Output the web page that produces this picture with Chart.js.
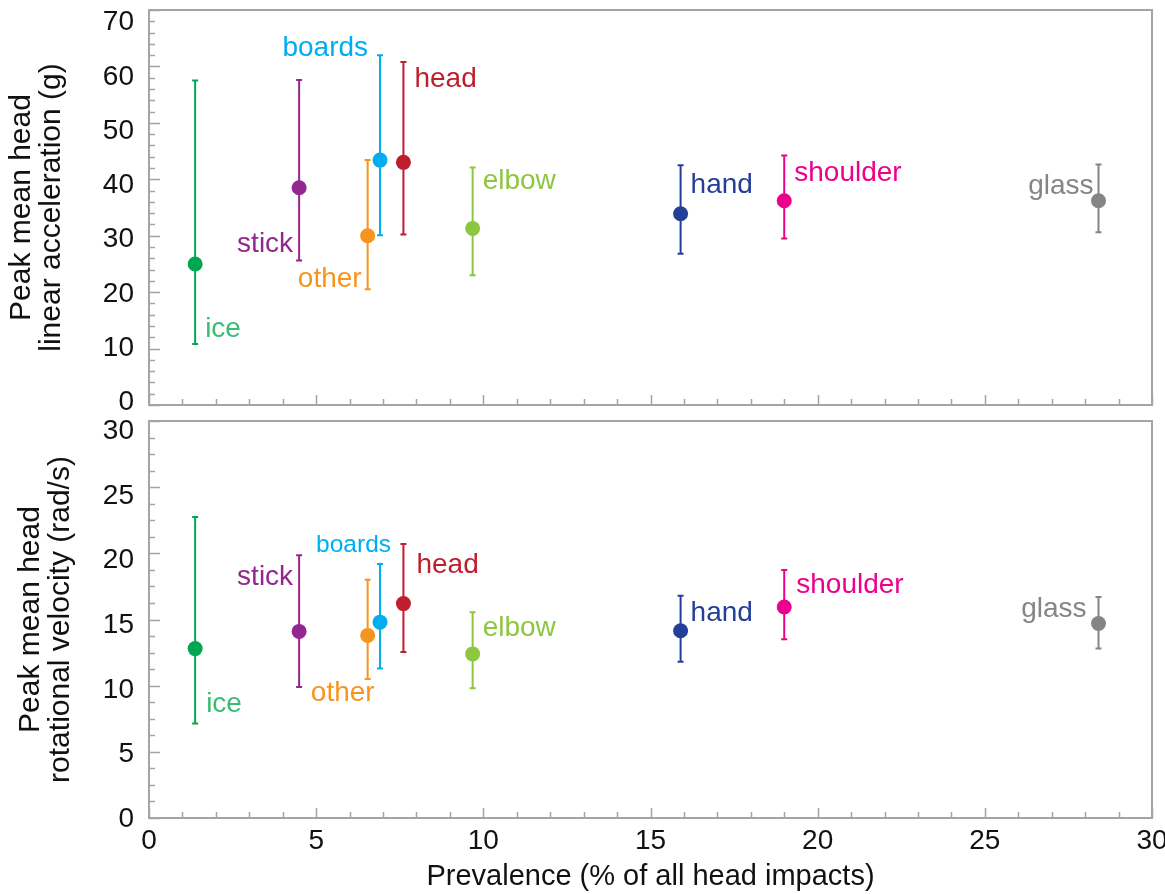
<!DOCTYPE html>
<html>
<head>
<meta charset="utf-8">
<script src="https://cdn.jsdelivr.net/npm/chart.js@4.4.0/dist/chart.umd.min.js"></script>
<style>
  html, body { margin: 0; padding: 0; background: #fff; }
  #wrap { position: relative; width: 1165px; height: 894px; }
  #topChart { position: absolute; left: 0; top: 0; }
  #bottomChart { position: absolute; left: 0; top: 400px; }
</style>
</head>
<body>
<div id="wrap">
  <canvas id="topChart" width="1165" height="430"></canvas>
  <canvas id="bottomChart" width="1165" height="494"></canvas>
</div>
<script>
// impact sources
const categories = ['ice', 'stick', 'other', 'boards', 'head', 'elbow', 'hand', 'shoulder', 'glass'];
const prevalence = [1.38, 4.49, 6.54, 6.91, 7.61, 9.68, 15.9, 19.0, 28.4];

// peak linear acceleration (g): mean and bar ends
const accelMean = [25.0, 38.5, 30.0, 43.4, 43.0, 31.3, 33.9, 36.2, 36.2];
const accelLow  = [10.8, 25.6, 20.5, 30.1, 30.2, 23.0, 26.8, 29.5, 30.6];
const accelHigh = [57.5, 57.6, 43.4, 62.0, 60.8, 42.1, 42.5, 44.2, 42.6];

// peak rotational velocity (rad/s): mean and bar ends
const velMean = [12.8, 14.1, 13.8, 14.8, 16.2, 12.4, 14.15, 15.95, 14.7];
const velLow  = [7.15, 9.9, 10.5, 11.3, 12.55, 9.8, 11.8, 13.5, 12.8];
const velHigh = [22.75, 19.85, 18.0, 19.2, 20.7, 15.55, 16.8, 18.75, 16.7];

const xTicks = [0, 5, 10, 15, 20, 25, 30];
const accelTicks = [0, 10, 20, 30, 40, 50, 60, 70];
const velTicks = [0, 5, 10, 15, 20, 25, 30];

const colors = ['#00a651', '#93278f', '#f7941d', '#00aeef', '#be1e2d', '#8dc63f', '#233f99', '#ec008c', '#858587'];
const labelColors = ['#3cbc72', '#93278f', '#f7941d', '#00aeef', '#be1e2d', '#8dc63f', '#233f99', '#ec008c', '#858587'];

// label placement relative to the point (px): dx, dy to baseline, alignment
const topLabels = [
  [10, 73, 'left'], [-6, 64, 'right'], [-6, 51, 'right'], [-12, -104, 'right'], [11, -75, 'left'],
  [10, -39, 'left'], [10, -21, 'left'], [10, -20, 'left'], [-5, -7, 'right']
];
const bottomLabels = [
  [11, 63, 'left'], [-6, -46, 'right'], [7, 66, 'right'], [11, -70, 'right'], [13, -31, 'left'],
  [10, -18, 'left'], [10, -10, 'left'], [12, -14, 'left'], [-12, -6, 'right']
];

const FONT = '"Liberation Sans", Arial, Helvetica, sans-serif';
const AXIS_GREY = '#a4a4a4';

// frame, inward ticks, error bars and point labels
const decorPlugin = {
  id: 'decor',
  beforeDatasetsDraw(chart, args, o) {
    const ctx = chart.ctx;
    const a = chart.chartArea;
    const xs = chart.scales.x, ys = chart.scales.y;
    ctx.save();
    ctx.strokeStyle = AXIS_GREY;
    ctx.lineWidth = 1.5;
    ctx.beginPath();
    for (let v = ys.min; v <= ys.max + 1e-6; v += o.yMinor) {
      const y = Math.round(ys.getPixelForValue(v)) + 0.5;
      const major = o.yMajor.some(t => Math.abs(t - v) < 1e-6);
      ctx.moveTo(a.left, y);
      ctx.lineTo(a.left + (major ? 11 : 6), y);
    }
    for (let v = xs.min; v <= xs.max + 1e-6; v += 1) {
      const x = Math.round(xs.getPixelForValue(v)) + 0.5;
      const major = xTicks.includes(Math.round(v));
      ctx.moveTo(x, a.bottom);
      ctx.lineTo(x, a.bottom - (major ? 10 : 6));
    }
    ctx.stroke();

    ctx.lineWidth = 2;
    ctx.strokeRect(a.left, a.top, a.right - a.left, a.bottom - a.top);

    // error bars
    prevalence.forEach((p, i) => {
      const x = xs.getPixelForValue(p);
      const y1 = ys.getPixelForValue(o.low[i]);
      const y2 = ys.getPixelForValue(o.high[i]);
      ctx.strokeStyle = colors[i];
      ctx.beginPath();
      ctx.moveTo(x, y1); ctx.lineTo(x, y2);
      ctx.moveTo(x - 3, y1); ctx.lineTo(x + 3, y1);
      ctx.moveTo(x - 3, y2); ctx.lineTo(x + 3, y2);
      ctx.stroke();
    });
    ctx.restore();
  },
  afterDatasetsDraw(chart, args, o) {
    const ctx = chart.ctx;
    const xs = chart.scales.x, ys = chart.scales.y;
    ctx.save();
    ctx.textBaseline = 'alphabetic';
    categories.forEach((c, i) => {
      const [dx, dy, align] = o.labels[i];
      const size = (o.small && o.small.includes(c)) ? 24.5 : 28;
      ctx.font = size + 'px ' + FONT;
      ctx.fillStyle = labelColors[i];
      ctx.textAlign = align;
      ctx.fillText(c, xs.getPixelForValue(prevalence[i]) + dx, ys.getPixelForValue(o.mean[i]) + dy);
    });
    ctx.restore();
  }
};

function makePanel(id, cfg) {
  return new Chart(document.getElementById(id), {
    type: 'scatter',
    data: {
      datasets: [{
        data: prevalence.map((p, i) => ({ x: p, y: cfg.mean[i] })),
        pointBackgroundColor: colors,
        pointBorderWidth: 0,
        pointRadius: 7.5,
        pointHoverRadius: 7.5
      }]
    },
    options: {
      responsive: false,
      animation: false,
      devicePixelRatio: 1,
      layout: { padding: { top: cfg.padTop, right: 13, left: 0, bottom: 0 } },
      plugins: {
        legend: { display: false },
        tooltip: { enabled: false },
        decor: { low: cfg.low, high: cfg.high, mean: cfg.mean, labels: cfg.labels, small: cfg.small,
                 yMinor: cfg.yMinor, yMajor: cfg.yTicks }
      },
      scales: {
        x: {
          type: 'linear', min: 0, max: 30,
          afterBuildTicks: s => { s.ticks = xTicks.map(v => ({ value: v })); },
          ticks: { display: cfg.showX, color: '#111', font: { family: FONT, size: 28 }, padding: 6, maxRotation: 0 },
          grid: { display: false, drawTicks: false },
          border: { display: false },
          title: { display: cfg.showX, text: 'Prevalence (% of all head impacts)', color: '#111',
                   font: { family: FONT, size: 29, lineHeight: 1.2 }, padding: { top: 0, bottom: 0 } },
          afterFit: s => { s.height = cfg.xHeight; s.paddingLeft = 0; s.paddingRight = 0; }
        },
        // data scale: frame spans exactly the tick range
        y: {
          display: false,
          min: cfg.yMin, max: cfg.yMax
        },
        // label scale: the printed numbers sit a little inside the frame ends
        yLab: {
          position: 'left',
          min: cfg.labMin, max: cfg.labMax,
          afterBuildTicks: s => { s.ticks = cfg.yTicks.map(v => ({ value: v })); },
          ticks: { color: '#111', font: { family: FONT, size: 28 }, padding: 15 },
          grid: { display: false, drawTicks: false },
          border: { display: false },
          title: { display: true, text: cfg.yTitle, color: '#111',
                   font: { family: FONT, size: 30, lineHeight: 1.0 }, padding: { top: cfg.titlePad, bottom: 0 } },
          afterFit: s => { s.width = 149; s.paddingTop = 0; s.paddingBottom = 0; }
        }
      }
    },
    plugins: [decorPlugin]
  });
}

makePanel('topChart', {
  mean: accelMean, low: accelLow, high: accelHigh, labels: topLabels,
  yMin: 0, yMax: 70, labMin: -0.48, labMax: 72.32, yTicks: accelTicks, yMinor: 2,
  yTitle: ['Peak mean head', 'linear acceleration (g)'], titlePad: 7,
  padTop: 10, showX: false, xHeight: 25
});

makePanel('bottomChart', {
  mean: velMean, low: velLow, high: velHigh, labels: bottomLabels, small: ['boards'],
  yMin: 0, yMax: 30, labMin: 0.1, labMax: 30.8, yTicks: velTicks, yMinor: 1.25,
  yTitle: ['Peak mean head', 'rotational velocity (rad/s)'], titlePad: 16,
  padTop: 21, showX: true, xHeight: 76
});
</script>
</body>
</html>
